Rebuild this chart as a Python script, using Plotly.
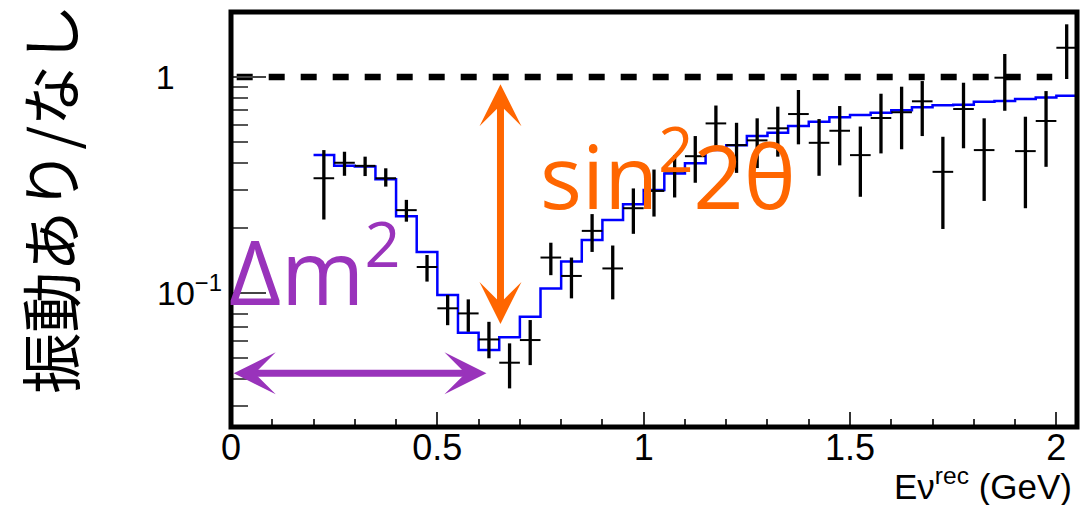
import math
import plotly.graph_objects as go

# Reconstructed neutrino energy, bin centres (GeV)
e_centers = [0.225, 0.275, 0.325, 0.375, 0.425, 0.475, 0.525, 0.575, 0.625, 0.675,
             0.725, 0.775, 0.825, 0.875, 0.925, 0.975, 1.025, 1.075, 1.125, 1.175,
             1.225, 1.275, 1.325, 1.375, 1.425, 1.475, 1.525, 1.575, 1.625, 1.675,
             1.725, 1.775, 1.825, 1.875, 1.925, 1.975, 2.025]
# Measured ratio (oscillation / no oscillation) and its error-bar ends
ratio = [0.340, 0.401, 0.388, 0.340, 0.242, 0.132, 0.085, 0.0805, 0.061, 0.0476,
         0.0606, 0.146, 0.120, 0.194, 0.130, 0.247, 0.297, 0.366, 0.430, 0.610,
         0.484, 0.509, 0.579, 0.674, 0.496, 0.564, 0.435, 0.646, 0.687, 0.772,
         0.364, 0.711, 0.459, 0.993, 0.454, 0.626, 1.366]
ratio_hi = [0.459, 0.451, 0.428, 0.378, 0.270, 0.150, 0.098, 0.0935, 0.0736, 0.0585,
            0.075, 0.171, 0.146, 0.232, 0.166, 0.305, 0.373, 0.435, 0.533, 0.738,
            0.614, 0.644, 0.729, 0.871, 0.639, 0.734, 0.590, 0.837, 0.902, 0.958,
            0.529, 0.941, 0.644, 1.278, 0.655, 0.861, 1.754]
ratio_lo = [0.219, 0.349, 0.348, 0.311, 0.214, 0.113, 0.071, 0.0662, 0.0499, 0.0362,
            0.0464, 0.121, 0.0945, 0.155, 0.0935, 0.188, 0.226, 0.277, 0.324, 0.469,
            0.360, 0.379, 0.428, 0.488, 0.349, 0.390, 0.279, 0.443, 0.463, 0.533,
            0.198, 0.468, 0.267, 0.698, 0.247, 0.384, 0.979]
bin_half_width = 0.025

# Expected ratio for the best-fit oscillation, as a histogram
hist_edges = [0.20, 0.25, 0.30, 0.35, 0.40, 0.45, 0.50, 0.55, 0.60, 0.65,
              0.70, 0.75, 0.80, 0.85, 0.90, 0.95, 1.00, 1.05, 1.10, 1.15,
              1.20, 1.25, 1.30, 1.35, 1.40, 1.45, 1.50, 1.55, 1.60, 1.65,
              1.70, 1.75, 1.80, 1.85, 1.90, 1.95, 2.00, 2.05]
hist_ratio = [0.435, 0.388, 0.385, 0.336, 0.227, 0.155, 0.098, 0.0655, 0.0545, 0.0624,
              0.0777, 0.105, 0.140, 0.176, 0.218, 0.258, 0.300, 0.358, 0.399, 0.459,
              0.483, 0.533, 0.552, 0.593, 0.621, 0.651, 0.667, 0.684, 0.701, 0.724,
              0.740, 0.745, 0.769, 0.774, 0.791, 0.805, 0.819]
hist_overflow = 1.0

# Axis ticks
x_major = [0, 0.5, 1, 1.5, 2]
x_labels = ["0", "0.5", "1", "1.5", "2"]
y_major = [0.1, 1]
y_labels = ["10<sup>\u22121</sup>", "1" + "\u00a0" * 5]
y_minor = [0.03, 0.04, 0.05, 0.06, 0.07, 0.08, 0.09,
           0.2, 0.3, 0.4, 0.5, 0.6, 0.7, 0.8, 0.9]

ORANGE = "#FF6600"
PURPLE = "#9933BB"
TICK_FONT = "Liberation Sans, Arial, sans-serif"

err_plus = [h - r for h, r in zip(ratio_hi, ratio)]
err_minus = [r - l for r, l in zip(ratio, ratio_lo)]

fig = go.Figure()

# no-oscillation reference at ratio = 1
fig.add_trace(go.Scatter(
    x=[0.0138, 1.99], y=[1, 1], mode="lines",
    line=dict(color="black", width=6.5, dash="16px,16px"),
    hoverinfo="skip"))

# expected spectrum ratio
fig.add_trace(go.Scatter(
    x=hist_edges, y=hist_ratio + [hist_overflow], mode="lines",
    line=dict(color="#0000FF", width=2.5, shape="hv"),
    hoverinfo="skip"))

# data with errors
fig.add_trace(go.Scatter(
    x=e_centers, y=ratio, mode="markers",
    marker=dict(size=1, color="black"),
    error_y=dict(type="data", symmetric=False, array=err_plus, arrayminus=err_minus,
                 color="black", thickness=3.3, width=0),
    error_x=dict(type="constant", value=bin_half_width,
                 color="black", thickness=2, width=0)))

# sin^2 2theta : depth of the dip
fig.add_annotation(
    x=0.653, y=math.log10(0.072), ax=0.653, ay=math.log10(0.94),
    xref="x", yref="y", axref="x", ayref="y", text="",
    showarrow=True, arrowhead=3, startarrowhead=3, arrowside="end+start",
    arrowwidth=7, arrowsize=1.0, startarrowsize=1.0, arrowcolor=ORANGE)
fig.add_annotation(
    x=0.745, y=math.log10(0.371), xref="x", yref="y",
    text="sin<sup>2</sup>2\u03b8", showarrow=False,
    xanchor="left", yanchor="middle",
    font=dict(family="Open Sans", size=88, color=ORANGE))

# Delta m^2 : position of the dip
fig.add_annotation(
    x=0.619, y=math.log10(0.0425), ax=0.003, ay=math.log10(0.0425),
    xref="x", yref="y", axref="x", ayref="y", text="",
    showarrow=True, arrowhead=3, startarrowhead=3, arrowside="end+start",
    arrowwidth=7, arrowsize=1.0, startarrowsize=1.0, arrowcolor=PURPLE)
fig.add_annotation(
    x=0, xshift=-4, y=math.log10(0.1348), xref="x", yref="y",
    text="\u0394m<sup>2</sup>", showarrow=False,
    xanchor="left", yanchor="middle",
    font=dict(family="Open Sans", size=90, color=PURPLE))

# axis titles
fig.add_annotation(
    x=-0.215, y=0.55, xref="paper", yref="paper",
    text="振動あり/なし", textangle=-90, showarrow=False,
    xanchor="center", yanchor="middle",
    font=dict(family="Noto Sans CJK JP", size=61, color="black"))
fig.add_annotation(
    x=0.9953, y=-0.188, yshift=-2, xref="paper", yref="paper",
    text="E\u03bd<sup>rec</sup> (GeV)", showarrow=False,
    xanchor="right", yanchor="bottom", borderpad=0,
    font=dict(family=TICK_FONT, size=35, color="black"))

# plot frame
fig.add_shape(type="rect", xref="paper", yref="paper", x0=0, x1=1, y0=0, y1=1,
              line=dict(color="black", width=5), layer="above")

fig.update_xaxes(
    range=[0, 2.05], showgrid=False, zeroline=False, showline=False,
    tickmode="array", tickvals=x_major, ticktext=x_labels,
    ticks="inside", ticklen=15, tickwidth=1.5, tickcolor="#333",
    ticklabelstandoff=-4,
    minor=dict(dtick=0.1, tick0=0, ticks="inside", ticklen=8,
               tickwidth=1.5, tickcolor="#333", showgrid=False),
    tickfont=dict(family=TICK_FONT, size=36, color="black"))
fig.update_yaxes(
    type="log", range=[-1.62, 0.301], showgrid=False, zeroline=False, showline=False,
    tickmode="array", tickvals=y_major, ticktext=y_labels,
    ticks="inside", ticklen=35, tickwidth=1.5, tickcolor="#444",
    ticklabelstandoff=8,
    minor=dict(tickmode="array", tickvals=y_minor, ticks="inside", ticklen=17,
               tickwidth=1.5, tickcolor="#555", showgrid=False),
    tickfont=dict(family=TICK_FONT, size=34, color="black"))

fig.update_layout(
    width=1080, height=505, showlegend=False,
    margin=dict(l=231, r=3, t=12, b=78),
    paper_bgcolor="white", plot_bgcolor="white")

fig.write_html("out.html")
